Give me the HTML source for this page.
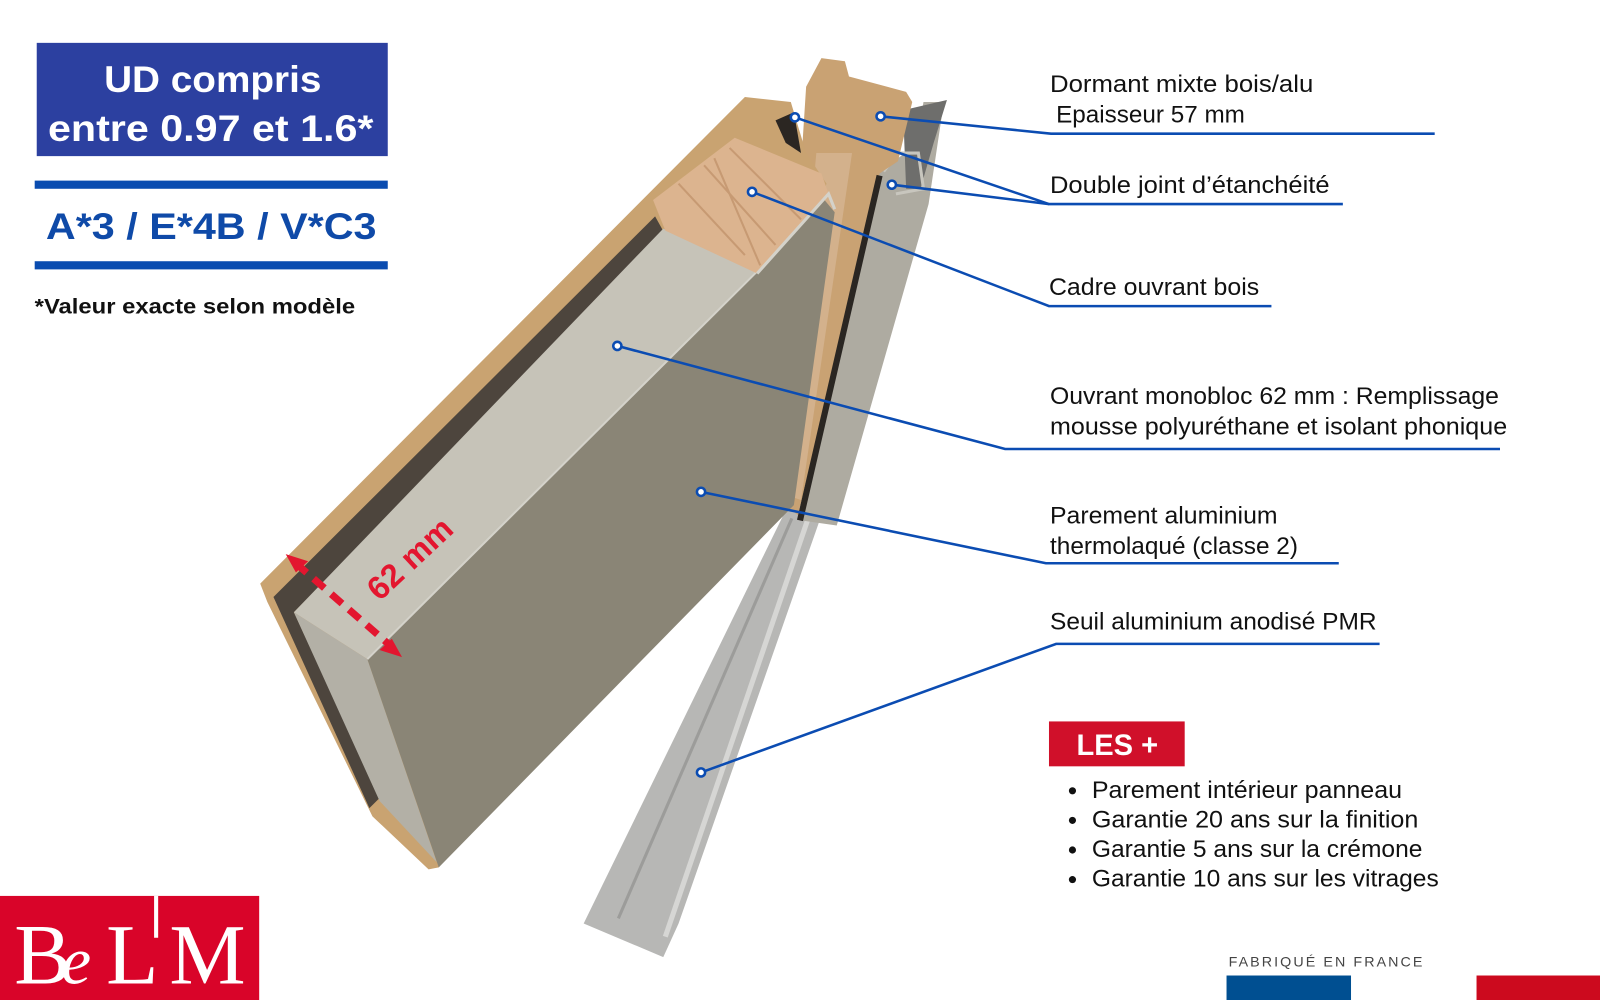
<!DOCTYPE html>
<html><head><meta charset="utf-8"><style>
html,body{margin:0;padding:0;background:#fff;}
svg{display:block;}
</style></head><body>
<svg width="1600" height="1000" viewBox="0 0 1568 980" xmlns="http://www.w3.org/2000/svg" style="font-family:'Liberation Sans',sans-serif">
<rect width="1568" height="980" fill="#fff"/>
<!-- threshold -->
<polygon points="770,500 805,505 665,905 650,938 572,905" fill="#b7b7b5"/>
<polyline points="792,508 652,918" stroke="#d6d6d4" stroke-width="5" fill="none"/>
<polyline points="776,508 606,900" stroke="#9c9c9a" stroke-width="3" fill="none"/>
<!-- frame aluminium -->
<polygon points="862,168 898,142 905,100 925,100 910,200 820,515 785,510" fill="#aeaba1"/>
<polygon points="885,108 928,98 915,140 902,185 888,185" fill="#6e6e6c"/>
<polyline points="866,168 880,150 900,150 905,185 878,190" stroke="#c8c6be" stroke-width="3" fill="none"/>
<!-- frame wood -->
<polygon points="790,85 805,57 828,60 832,75 888,90 894,100 880,158 862,170 782,505 764,490" fill="#c9a273"/>
<polygon points="800,150 835,150 785,490 770,485" fill="#d3b18c"/>
<line x1="862" y1="172" x2="784" y2="510" stroke="#2a2622" stroke-width="6"/>
<!-- door wood -->
<polygon points="255,572 730,95 775,100 790,150 810,180 800,210 430,850 420,852 365,800 262,590" fill="#c9a371"/>
<!-- dark strip -->
<polygon points="268,585 642,212 652,230 288,600 372,782 362,792" fill="#4d453d"/>
<!-- light side face -->
<polygon points="288,600 650,224 742,266 360,646" fill="#c6c3b8"/>
<polygon points="288,600 360,646 428,845 372,785" fill="#b3b0a6"/>
<!-- front face -->
<polygon points="360,646 742,266 808,196 818,208 778,495 430,850" fill="#8a8576"/>
<line x1="360" y1="646" x2="742" y2="266" stroke="#d4d2ca" stroke-width="2"/>
<!-- wood block -->
<polygon points="640,196 720,135 805,170 812,190 742,268 652,226" fill="#dcb48f"/>
<g stroke="#c79a73" stroke-width="2">
<line x1="665" y1="180" x2="730" y2="250"/><line x1="690" y1="162" x2="760" y2="240"/>
<line x1="715" y1="145" x2="785" y2="215"/><line x1="700" y1="155" x2="745" y2="260"/>
</g>
<polyline points="742,268 812,190 818,205" stroke="#d4d2ca" stroke-width="3" fill="none"/>
<polygon points="760,118 778,110 785,150 770,140" fill="#2b2622"/>
<!-- 62mm -->
<g fill="#e3162f">
<polygon points="280,543 302,550 290,561"/>
<polygon points="394,644 372,637 384,626"/>
</g>
<line x1="290" y1="552" x2="384" y2="634" stroke="#e3162f" stroke-width="7" stroke-dasharray="14,9"/>
<text transform="translate(372,590) rotate(-43)" font-size="32" font-weight="bold" fill="#e3162f">62 mm</text>
<!-- callouts -->
<g stroke="#0b4cb2" stroke-width="2.5" fill="none">
<polyline points="863,114 1030,131 1406,131"/>
<polyline points="779,115 1028,200 1316,200"/>
<polyline points="874,181 1028,200"/>
<polyline points="737,188 1028,300 1246,300"/>
<polyline points="605,339 985,440 1470,440"/>
<polyline points="687,482 1025,552 1312,552"/>
<polyline points="687,757 1035,631 1352,631"/>
</g>
<g stroke="#0b4cb2" stroke-width="2.5" fill="#fff">
<circle cx="863" cy="114" r="4"/><circle cx="779" cy="115" r="4"/><circle cx="874" cy="181" r="4"/>
<circle cx="737" cy="188" r="4"/><circle cx="605" cy="339" r="4"/><circle cx="687" cy="482" r="4"/><circle cx="687" cy="757" r="4"/>
</g>
<g font-size="23.5" fill="#111">
<text x="1029" y="90" textLength="258" lengthAdjust="spacingAndGlyphs">Dormant mixte bois/alu</text>
<text x="1035" y="120" textLength="185" lengthAdjust="spacingAndGlyphs">Epaisseur 57 mm</text>
<text x="1029" y="189" textLength="274" lengthAdjust="spacingAndGlyphs">Double joint d’étanchéité</text>
<text x="1028" y="289" textLength="206" lengthAdjust="spacingAndGlyphs">Cadre ouvrant bois</text>
<text x="1029" y="396" textLength="440" lengthAdjust="spacingAndGlyphs">Ouvrant monobloc 62 mm : Remplissage</text>
<text x="1029" y="426" textLength="448" lengthAdjust="spacingAndGlyphs">mousse polyuréthane et isolant phonique</text>
<text x="1029" y="513" textLength="223" lengthAdjust="spacingAndGlyphs">Parement aluminium</text>
<text x="1029" y="543" textLength="243" lengthAdjust="spacingAndGlyphs">thermolaqué (classe 2)</text>
<text x="1029" y="617" textLength="320" lengthAdjust="spacingAndGlyphs">Seuil aluminium anodisé PMR</text>
</g>
<!-- left block -->
<rect x="36" y="42" width="344" height="111" fill="#2c40a0"/>
<text x="102" y="90" textLength="213" lengthAdjust="spacingAndGlyphs" font-size="36" font-weight="bold" fill="#fff">UD compris</text>
<text x="47" y="138" textLength="319" lengthAdjust="spacingAndGlyphs" font-size="36" font-weight="bold" fill="#fff">entre 0.97 et 1.6*</text>
<rect x="34" y="177" width="346" height="8" fill="#0a4cb0"/>
<rect x="34" y="256" width="346" height="8" fill="#0a4cb0"/>
<text x="45" y="234" textLength="324" lengthAdjust="spacingAndGlyphs" font-size="36" font-weight="bold" fill="#0f4aa8">A*3 / E*4B / V*C3</text>
<text x="34" y="307" textLength="314" lengthAdjust="spacingAndGlyphs" font-size="21" font-weight="bold" fill="#111">*Valeur exacte selon modèle</text>
<!-- LES + -->
<rect x="1028" y="707" width="133" height="44" fill="#d0102a"/>
<text x="1055" y="740" textLength="80" lengthAdjust="spacingAndGlyphs" font-size="29" font-weight="bold" fill="#fff">LES +</text>
<g font-size="23.5" fill="#111">
<circle cx="1051" cy="775" r="3.5"/><text x="1070" y="782" textLength="304" lengthAdjust="spacingAndGlyphs">Parement intérieur panneau</text>
<circle cx="1051" cy="804" r="3.5"/><text x="1070" y="811" textLength="320" lengthAdjust="spacingAndGlyphs">Garantie 20 ans sur la finition</text>
<circle cx="1051" cy="833" r="3.5"/><text x="1070" y="840" textLength="324" lengthAdjust="spacingAndGlyphs">Garantie 5 ans sur la crémone</text>
<circle cx="1051" cy="862" r="3.5"/><text x="1070" y="869" textLength="340" lengthAdjust="spacingAndGlyphs">Garantie 10 ans sur les vitrages</text>
</g>
<!-- logo -->
<rect x="0" y="878" width="254" height="102" fill="#d90429"/>
<rect x="151" y="878" width="4" height="41" fill="#fff"/>
<g style="font-family:'Liberation Serif',serif" fill="#fff">
<text x="14" y="964" font-size="84">B</text>
<text x="60" y="964" font-size="66" font-style="italic">e</text>
<text x="104" y="964" font-size="84">L</text>
<text x="166" y="964" font-size="84">M</text>
</g>
<!-- made in france -->
<text x="1204" y="947" font-size="14" textLength="190" fill="#444">FABRIQUÉ EN FRANCE</text>
<rect x="1202" y="956" width="122" height="24" fill="#004f91"/>
<rect x="1447" y="956" width="121" height="24" fill="#cc0a1e"/>
</svg>
</body></html>
